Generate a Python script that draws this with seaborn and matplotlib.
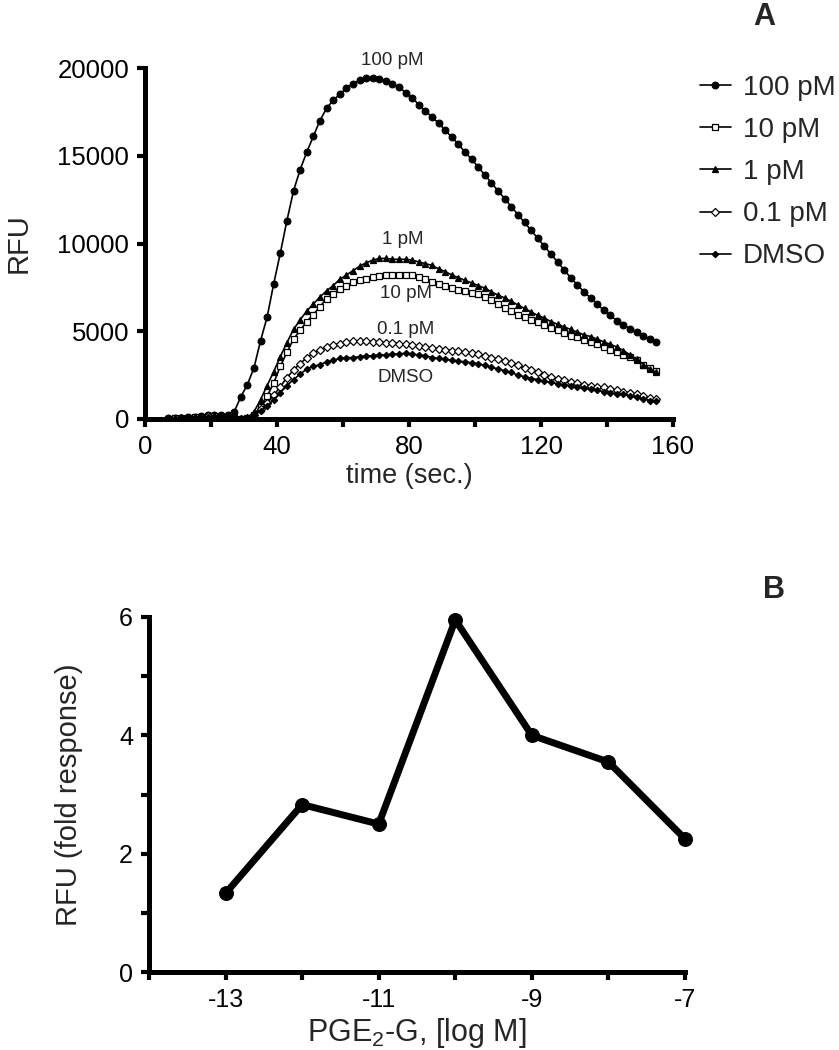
import matplotlib
matplotlib.use("Agg")
import matplotlib.pyplot as plt
from matplotlib.ticker import MultipleLocator
import seaborn as sns

# ---------------- data: panel A ----------------
time_sec = [7, 9, 11, 13, 15, 17, 19, 21, 23, 25,
            27, 29, 31, 33, 35, 37, 39, 41, 43, 45,
            47, 49, 51, 53, 55, 57, 59, 61, 63, 65,
            67, 69, 71, 73, 75, 77, 79, 81, 83, 85,
            87, 89, 91, 93, 95, 97, 99, 101, 103, 105,
            107, 109, 111, 113, 115, 117, 119, 121, 123, 125,
            127, 129, 131, 133, 135, 137, 139, 141, 143, 145,
            147, 149, 151, 153, 155]

rfu_100pM = [30, 50, 80, 100, 130, 170, 220, 250, 200, 220,
             400, 1250, 1950, 2900, 4450, 5800, 7700, 9450, 11300, 13000,
             14200, 15200, 16100, 17000, 17700, 18150, 18500, 18850, 19100, 19300,
             19450, 19450, 19400, 19250, 19100, 18900, 18600, 18300, 17900, 17550,
             17200, 16850, 16450, 16050, 15650, 15200, 14800, 14350, 13900, 13450,
             13000, 12550, 12100, 11650, 11200, 10750, 10300, 9850, 9400, 8950,
             8500, 8050, 7650, 7250, 6900, 6550, 6200, 5900, 5600, 5350,
             5150, 4950, 4750, 4550, 4400]

rfu_10pM = [10, 30, 50, 70, 90, 130, 160, 150, 110, 70,
            40, 20, 40, 250, 700, 1300, 2050, 3000, 3800, 4550,
            5050, 5550, 5950, 6400, 6850, 7150, 7400, 7600, 7800, 7900,
            8000, 8100, 8150, 8200, 8200, 8200, 8200, 8200, 8100, 7950,
            7800, 7700, 7600, 7450, 7350, 7300, 7200, 7100, 6950, 6800,
            6550, 6350, 6150, 5950, 5800, 5650, 5500, 5350, 5200, 5050,
            4900, 4750, 4650, 4500, 4400, 4250, 4100, 3950, 3800, 3650,
            3550, 3350, 3100, 2900, 2750]

rfu_1pM = [20, 40, 60, 80, 100, 150, 180, 160, 120, 80,
           50, 30, 60, 400, 1100, 1900, 2700, 3550, 4350, 5100,
           5650, 6150, 6550, 6950, 7300, 7600, 7950, 8200, 8450, 8700,
           8900, 9050, 9150, 9150, 9100, 9100, 9100, 9050, 8950, 8850,
           8750, 8550, 8400, 8200, 8050, 7900, 7750, 7600, 7450, 7250,
           7050, 6900, 6700, 6500, 6300, 6100, 5900, 5750, 5550, 5400,
           5250, 5100, 4950, 4800, 4700, 4550, 4400, 4250, 4100, 3900,
           3650, 3400, 3100, 2850, 2650]

rfu_01pM = [0, 20, 40, 60, 80, 120, 150, 130, 100, 60,
            40, 20, 50, 250, 550, 900, 1350, 1850, 2350, 2800,
            3150, 3500, 3750, 3950, 4100, 4200, 4300, 4400, 4450, 4450,
            4450, 4400, 4400, 4350, 4350, 4300, 4250, 4200, 4150, 4100,
            4050, 4000, 3950, 3900, 3850, 3800, 3750, 3700, 3600, 3500,
            3400, 3300, 3200, 3050, 2900, 2800, 2650, 2500, 2400, 2300,
            2200, 2100, 2050, 1950, 1900, 1850, 1800, 1700, 1650, 1550,
            1500, 1400, 1300, 1200, 1150]

rfu_dmso = [0, 20, 30, 50, 70, 100, 130, 120, 90, 60,
            30, 20, 40, 200, 450, 750, 1100, 1500, 1900, 2250,
            2550, 2850, 3000, 3100, 3250, 3350, 3450, 3500, 3500, 3550,
            3600, 3600, 3650, 3650, 3700, 3700, 3750, 3700, 3650, 3600,
            3500, 3450, 3400, 3350, 3300, 3250, 3200, 3150, 3050, 2950,
            2850, 2750, 2650, 2500, 2400, 2300, 2250, 2150, 2100, 2000,
            1950, 1900, 1800, 1750, 1700, 1650, 1550, 1500, 1450, 1400,
            1300, 1250, 1150, 1050, 1000]

series_labels = ["100 pM", "10 pM", "1 pM", "0.1 pM", "DMSO"]

# curve annotations (label, x in sec, y in RFU)
annot_text = ["100 pM", "1 pM", "10 pM", "0.1 pM", "DMSO"]
annot_x = [75, 78, 79, 79, 79]
annot_y = [20400, 10200, 7150, 5100, 2380]

# ---------------- data: panel B ----------------
log_conc = [-13, -12, -11, -10, -9, -8, -7]
fold_response = [1.33, 2.83, 2.50, 5.95, 4.00, 3.55, 2.25]

# ---------------- style ----------------
sns.set_theme(style="ticks")
plt.rcParams["font.family"] = ["Liberation Sans", "DejaVu Sans"]
plt.rcParams["mathtext.default"] = "regular"

fig = plt.figure(figsize=(8.39, 10.5), dpi=100)
axA = fig.add_axes([145 / 839, 1 - 419 / 1050, 528 / 839, 351 / 1050])
axB = fig.add_axes([149 / 839, 1 - 972 / 1050, 536 / 839, 355 / 1050])

spine_w = 3.6

# ---------------- panel A ----------------
styles = [
    dict(marker="o", markersize=4.8, markerfacecolor="black", markeredgecolor="black"),
    dict(marker="s", markersize=4.6, markerfacecolor="white", markeredgecolor="black"),
    dict(marker="^", markersize=4.4, markerfacecolor="black", markeredgecolor="black"),
    dict(marker="D", markersize=3.6, markerfacecolor="white", markeredgecolor="black"),
    dict(marker="D", markersize=3.2, markerfacecolor="black", markeredgecolor="black"),
]
ydata = [rfu_100pM, rfu_10pM, rfu_1pM, rfu_01pM, rfu_dmso]
for lab, ys, st in zip(series_labels, ydata, styles):
    sns.lineplot(x=time_sec, y=ys, ax=axA, color="black", linewidth=1.2,
                 markeredgewidth=0.9, label=lab, legend=False, **st)

for txt, xx, yy in zip(annot_text, annot_x, annot_y):
    axA.text(xx, yy, txt, ha="center", va="center", fontsize=13.5, clip_on=False)

axA.set_xlim(0, 160)
axA.set_ylim(0, 20000)
axA.xaxis.set_major_locator(MultipleLocator(40))
axA.xaxis.set_minor_locator(MultipleLocator(20))
axA.yaxis.set_major_locator(MultipleLocator(5000))
axA.set_xlabel("time (sec.)", fontsize=19.5, labelpad=3)
axA.set_ylabel("RFU", fontsize=21, labelpad=18)

handles, labels = axA.get_legend_handles_labels()
fig.legend(handles, labels, loc="upper left",
           bbox_to_anchor=(700 / 839, 1 - 75 / 1050), bbox_transform=fig.transFigure,
           frameon=False, fontsize=20, handlelength=1.1, handletextpad=0.45,
           labelspacing=0.58, borderpad=0, borderaxespad=0)

fig.text(764 / 839, 1 - 17 / 1050, "A", fontsize=22, fontweight="bold",
         ha="center", va="center")

# ---------------- panel B ----------------
sns.lineplot(x=log_conc, y=fold_response, ax=axB, color="black", linewidth=5,
             marker="o", markersize=10, markeredgecolor="black",
             markerfacecolor="black", clip_on=False, legend=False)
axB.set_xlim(-14, -7)
axB.set_ylim(0, 6)
axB.set_xticks([-13, -11, -9, -7])
axB.set_xticklabels(["-13", "-11", "-9", "-7"])
axB.xaxis.set_minor_locator(MultipleLocator(1))
axB.set_yticks([0, 2, 4, 6])
axB.yaxis.set_minor_locator(MultipleLocator(1))
axB.set_xlabel("PGE$_2$-G, [log M]", fontsize=22, labelpad=3)
axB.set_ylabel("RFU (fold response)", fontsize=21, labelpad=26)

fig.text(774 / 839, 1 - 590 / 1050, "B", fontsize=22, fontweight="bold",
         ha="center", va="center")

for ax, fs in ((axA, 18.5), (axB, 18)):
    sns.despine(ax=ax)
    for s in ("left", "bottom"):
        ax.spines[s].set_linewidth(spine_w)
        ax.spines[s].set_color("black")
        ax.spines[s].set_capstyle("projecting")
    ax.tick_params(which="both", direction="out", width=3, length=5.5,
                   color="black", labelsize=fs, labelcolor="black", pad=6)
    ax.tick_params(which="minor", labelbottom=False, labelleft=False)
    ax.patch.set_alpha(0)

fig.savefig("out.png", dpi=100)
